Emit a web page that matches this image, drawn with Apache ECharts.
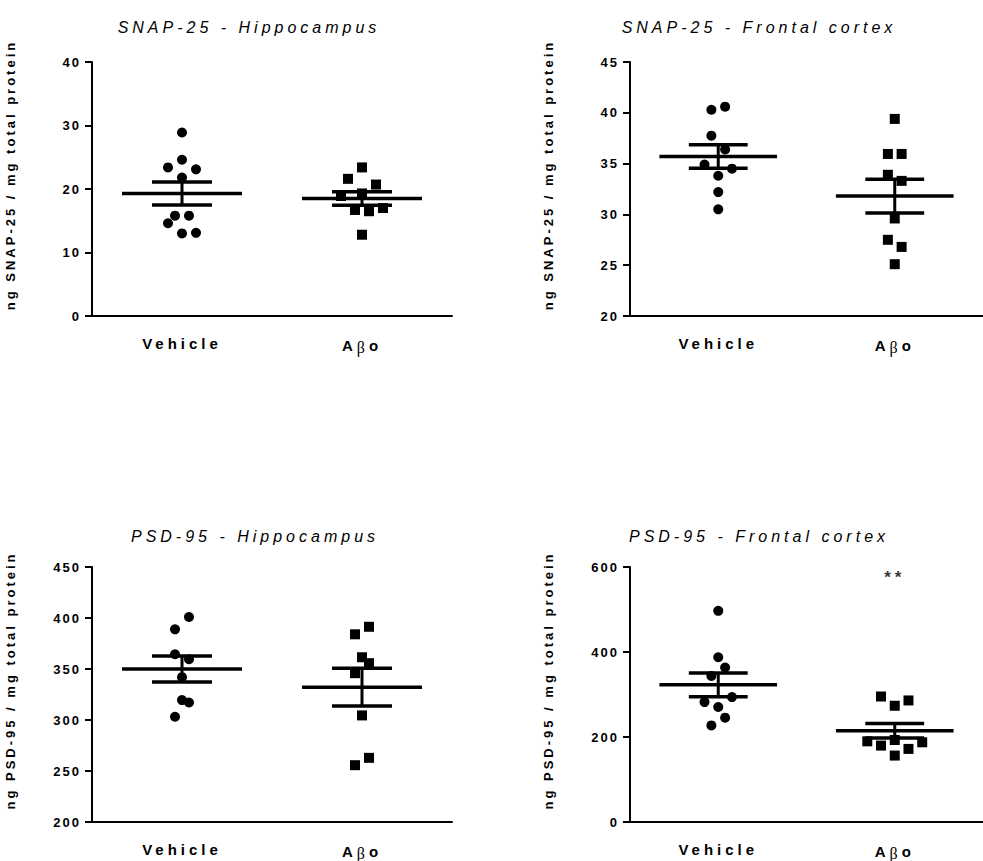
<!DOCTYPE html>
<html><head><meta charset="utf-8">
<script src="https://cdn.jsdelivr.net/npm/echarts@6/dist/echarts.min.js"></script>
<style>html,body{margin:0;padding:0;background:#fff}#chart{width:983px;height:861px}</style>
</head><body><div id="chart"></div>
<script>
// ---------- data ----------
const groups = ['Vehicle', 'Aβo'];
const panelTitles = ['SNAP-25 - Hippocampus', 'SNAP-25 - Frontal cortex', 'PSD-95 - Hippocampus', 'PSD-95 - Frontal cortex'];
const yAxisNames = ['ng SNAP-25 / mg total protein', 'ng SNAP-25 / mg total protein', 'ng PSD-95 / mg total protein', 'ng PSD-95 / mg total protein'];
const yMins = [0, 20, 200, 0];
const yMaxs = [40, 45, 450, 600];
const yIntervals = [10, 5, 50, 200];

// SNAP-25 hippocampus
const snapHippoVehicle = [28.9, 24.6, 23.4, 23.1, 21.8, 15.8, 15.8, 14.6, 13.0, 13.1];
const snapHippoVehicleJitter = [0, 0, -2, 2, 0, -1, 1, -2, 0, 2];
const snapHippoAbo = [23.4, 21.6, 20.7, 18.9, 19.3, 16.7, 16.5, 17.0, 12.8];
const snapHippoAboJitter = [0, -2, 2, -3, 0, -1, 1, 3, 0];
const snapHippoMean = [19.3, 18.5];
const snapHippoSem = [1.8, 1.05];

// SNAP-25 frontal cortex
const snapCortexVehicle = [40.6, 40.3, 37.75, 36.4, 34.9, 34.5, 33.8, 32.2, 30.5];
const snapCortexVehicleJitter = [1, -1, -1, 1, -2, 2, 0, 0, 0];
const snapCortexAbo = [39.4, 35.95, 35.95, 33.9, 33.3, 29.6, 27.5, 26.8, 25.1];
const snapCortexAboJitter = [0, -1, 1, -1, 1, 0, -1, 1, 0];
const snapCortexMean = [35.7, 31.8];
const snapCortexSem = [1.15, 1.65];

// PSD-95 hippocampus
const psdHippoVehicle = [401, 388.9, 364.5, 359.6, 342, 319.5, 317.2, 303.2];
const psdHippoVehicleJitter = [1, -1, -1, 1, 0, 0, 1, -1];
const psdHippoAbo = [391.4, 384, 361.5, 355.7, 345.9, 304.5, 262.9, 255.7];
const psdHippoAboJitter = [1, -1, 0, 1, -1, 0, 1, -1];
const psdHippoMean = [350, 332.2];
const psdHippoSem = [12.7, 18.5];

// PSD-95 frontal cortex
const psdCortexVehicle = [496.9, 387.6, 363.3, 343.8, 293.9, 282.2, 270.5, 245.4, 227.3];
const psdCortexVehicleJitter = [0, 0, 1, -1, 2, -2, 0, 1, -1];
const psdCortexAbo = [295.3, 286, 273.5, 189.8, 193, 187.5, 179.8, 172, 156.3];
const psdCortexAboJitter = [-2, 2, 0, -4, 0, 4, -2, 2, 0];
const psdCortexMean = [322.7, 214.9];
const psdCortexSem = [27.7, 17.1];

const sigLabels = ['', '', '', '**'];

// ---------- assembly ----------
const panels = [
  {veh: snapHippoVehicle, vehJ: snapHippoVehicleJitter, abo: snapHippoAbo, aboJ: snapHippoAboJitter, mean: snapHippoMean, sem: snapHippoSem},
  {veh: snapCortexVehicle, vehJ: snapCortexVehicleJitter, abo: snapCortexAbo, aboJ: snapCortexAboJitter, mean: snapCortexMean, sem: snapCortexSem},
  {veh: psdHippoVehicle, vehJ: psdHippoVehicleJitter, abo: psdHippoAbo, aboJ: psdHippoAboJitter, mean: psdHippoMean, sem: psdHippoSem},
  {veh: psdCortexVehicle, vehJ: psdCortexVehicleJitter, abo: psdCortexAbo, aboJ: psdCortexAboJitter, mean: psdCortexMean, sem: psdCortexSem}
];

const gridRects = [
  {left: 92, top: 62, width: 360, height: 254},
  {left: 630, top: 62, width: 360, height: 254},
  {left: 92, top: 567, width: 360, height: 256},
  {left: 630, top: 567, width: 360, height: 256}
];
const titlePos = [{x: 244, y: 14}, {x: 754, y: 14}, {x: 250, y: 523}, {x: 754, y: 523}];
const JSTEP = 7 / 180;   // jitter step in category units
const FONT = '"Liberation Sans", Arial, sans-serif';

const option = {
  animation: false,
  backgroundColor: '#fff',
  title: panelTitles.map((t, i) => ({
    text: t, left: titlePos[i].x, top: titlePos[i].y, textAlign: 'center',
    textStyle: {fontFamily: FONT, fontStyle: 'italic', fontWeight: 'normal', fontSize: 16, color: '#000'}
  })),
  grid: gridRects.map(r => Object.assign({containLabel: false}, r)),
  xAxis: [], yAxis: [], series: []
};

panels.forEach((p, i) => {
  option.xAxis.push({
    type: 'category', gridIndex: i, data: groups, boundaryGap: true,
    axisLine: {lineStyle: {color: '#000', width: 2}},
    axisTick: {alignWithLabel: true, length: 7, lineStyle: {color: '#000', width: 2}},
    axisLabel: {
      margin: 20, color: '#000', fontFamily: FONT, fontWeight: 'bold', fontSize: 15,
      formatter: v => v === 'Aβo' ? 'A{b|β}o' : v,
      rich: {b: {fontFamily: '"Liberation Serif", serif', fontWeight: 'normal', fontSize: 16, color: '#000', padding: [3, 4, 0, 4]}}
    },
    splitLine: {show: false}
  });
  option.xAxis.push({type: 'value', gridIndex: i, min: 0.5, max: 2.5, show: false});
  option.yAxis.push({
    type: 'value', gridIndex: i, min: yMins[i], max: yMaxs[i], interval: yIntervals[i],
    name: yAxisNames[i], nameLocation: 'middle', nameGap: 75, nameRotate: 90,
    nameTextStyle: {fontFamily: FONT, fontWeight: 'bold', fontSize: 13, color: '#000', padding: [0, 0, 0, 28]},
    axisLine: {show: true, lineStyle: {color: '#000', width: 2}},
    axisTick: {show: true, length: 7, lineStyle: {color: '#000', width: 2}},
    axisLabel: {margin: 11, color: '#000', fontFamily: FONT, fontWeight: 'bold', fontSize: 13},
    splitLine: {show: false}
  });
  const ptsV = p.veh.map((v, k) => [1 + p.vehJ[k] * JSTEP, v]);
  const ptsA = p.abo.map((v, k) => [2 + p.aboJ[k] * JSTEP, v]);
  option.series.push({
    type: 'scatter', xAxisIndex: i * 2 + 1, yAxisIndex: i, data: ptsV,
    symbol: 'circle', symbolSize: 10, itemStyle: {color: '#000', opacity: 1}, z: 2, silent: true
  });
  option.series.push({
    type: 'scatter', xAxisIndex: i * 2 + 1, yAxisIndex: i, data: ptsA,
    symbol: 'rect', symbolSize: 10, itemStyle: {color: '#000', opacity: 1}, z: 2, silent: true
  });
  option.series.push({
    type: 'custom', xAxisIndex: i * 2 + 1, yAxisIndex: i, z: 3, silent: true,
    data: p.mean.map((m, k) => [k + 1, m, p.sem[k]]),
    renderItem: (params, api) => {
      const x = api.value(0), m = api.value(1), s = api.value(2);
      const c = api.coord([x, m]), t = api.coord([x, m + s]), b = api.coord([x, m - s]);
      const half = api.size([1 / 3, 0])[0];
      const cap = api.size([1 / 6, 0])[0];
      const st = {stroke: '#000', lineWidth: 3.5};
      return {type: 'group', children: [
        {type: 'line', shape: {x1: c[0] - half, y1: c[1], x2: c[0] + half, y2: c[1]}, style: st},
        {type: 'line', shape: {x1: c[0] - cap, y1: t[1], x2: c[0] + cap, y2: t[1]}, style: st},
        {type: 'line', shape: {x1: c[0] - cap, y1: b[1], x2: c[0] + cap, y2: b[1]}, style: st},
        {type: 'line', shape: {x1: c[0], y1: t[1], x2: c[0], y2: b[1]}, style: {stroke: '#000', lineWidth: 3}}
      ]};
    }
  });
  if (sigLabels[i]) {
    option.series.push({
      type: 'scatter', xAxisIndex: i * 2 + 1, yAxisIndex: i, silent: true,
      data: [[2, yMaxs[i] * 0.96]], symbolSize: 1, itemStyle: {color: 'transparent'},
      label: {show: true, position: 'inside', formatter: sigLabels[i], color: '#000', fontFamily: FONT, fontWeight: 'bold', fontSize: 17}
    });
  }
});

const chart = echarts.init(document.getElementById('chart'), null, {renderer: 'svg'});
chart.setOption(option);

function applySpacing() {
  document.querySelectorAll('#chart svg text').forEach(t => {
    const fs = parseFloat(getComputedStyle(t).fontSize) || 12;
    const txt = t.textContent || '';
    let ls = 0;
    if (fs >= 16 && /[a-z]/i.test(txt) && txt.length > 5) ls = 4;
    else if (/^\d+$/.test(txt)) ls = 2;
    else if (fs >= 15) ls = 4;
    else ls = 3;
    t.style.letterSpacing = ls + 'px';
  });
}
chart.on('finished', applySpacing);
setTimeout(applySpacing, 50);
</script></body></html>
